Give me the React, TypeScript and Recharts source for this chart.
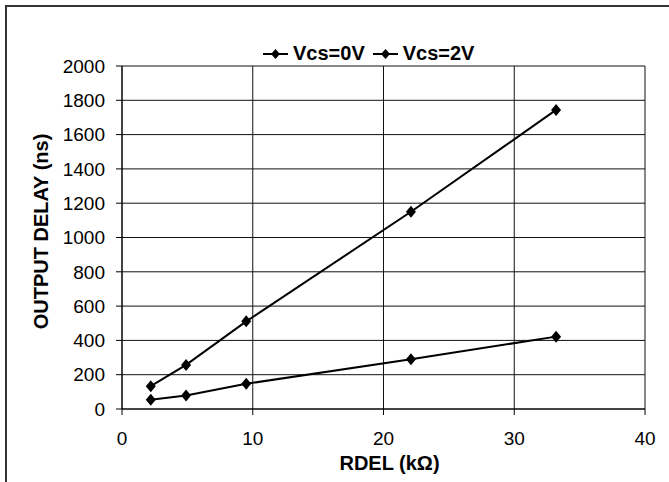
import React from "react";
import {
  LineChart, Line, XAxis, YAxis, CartesianGrid, Legend, Label,
} from "recharts";

// RDEL (kOhm) vs output delay (ns)
const rdel = [2.2, 4.9, 9.5, 22.1, 33.2];
const delayVcs0 = [133, 257, 511, 1150, 1744];
const delayVcs2 = [54, 79, 147, 290, 422];

const xTicks = [0, 10, 20, 30, 40];
const yTicks = [0, 200, 400, 600, 800, 1000, 1200, 1400, 1600, 1800, 2000];

const SERIES = [
  { name: "Vcs=0V", values: delayVcs0 },
  { name: "Vcs=2V", values: delayVcs2 },
];

const FONT = "'Liberation Sans', Arial, sans-serif";

function Diamond(props: { cx?: number; cy?: number }) {
  const { cx, cy } = props;
  if (cx == null || cy == null) return null;
  return (
    <polygon
      points={`${cx},${cy - 6} ${cx + 5},${cy} ${cx},${cy + 6} ${cx - 5},${cy}`}
      fill="#000"
    />
  );
}

function LegendBox() {
  return (
    <div style={{ display: "flex", alignItems: "center", fontFamily: FONT, fontWeight: 700, fontSize: 20, color: "#000" }}>
      {SERIES.map((s, i) => (
        <div key={s.name} style={{ display: "flex", alignItems: "center", marginLeft: i ? 8 : 0 }}>
          <svg width={25} height={14} style={{ marginRight: 5 }}>
            <line x1={0} y1={7} x2={25} y2={7} stroke="#000" strokeWidth={2} />
            <polygon points="12.5,2 17,7 12.5,12 8,7" fill="#000" />
          </svg>
          <span>{s.name}</span>
        </div>
      ))}
    </div>
  );
}

export default function App() {
  return (
    <div style={{ position: "fixed", left: 0, top: 0, width: 669, height: 482, overflow: "hidden", background: "#fff" }}>
      {/* outer frame, cut off at right and bottom */}
      <div style={{ position: "absolute", left: 5, top: 5, width: 700, height: 520, border: "2px solid #333" }} />
      <LineChart
        width={669}
        height={482}
        margin={{ top: 66, right: 24, left: 0, bottom: 0 }}
        style={{ position: "absolute", left: 0, top: 0, fontFamily: FONT }}
      >
        <CartesianGrid stroke="#111" strokeWidth={1} horizontalValues={yTicks} verticalValues={xTicks} />
        <XAxis
          type="number"
          dataKey="x"
          domain={[0, 40]}
          ticks={xTicks}
          allowDataOverflow
          height={73}
          stroke="#000"
          tickSize={6}
          tickMargin={17}
          tick={{ fill: "#000", fontSize: 19, fontFamily: FONT }}
        >
          <Label
            content={({ viewBox }: any) => (
              <text
                x={viewBox.x + viewBox.width / 2 + 6}
                y={470}
                textAnchor="middle"
                fontFamily={FONT}
                fontWeight={700}
                fontSize={20}
                fill="#000"
              >
                RDEL (kΩ)
              </text>
            )}
          />
        </XAxis>
        <YAxis
          type="number"
          domain={[0, 2000]}
          ticks={yTicks}
          interval={0}
          width={122}
          stroke="#000"
          tickSize={6}
          tickMargin={11}
          tick={{ fill: "#000", fontSize: 19, fontFamily: FONT }}
        >
          <Label
            content={({ viewBox }: any) => (
              <text
                x={41}
                y={viewBox.y + viewBox.height / 2 - 6}
                transform={`rotate(-90 41 ${viewBox.y + viewBox.height / 2 - 6})`}
                textAnchor="middle"
                dominantBaseline="central"
                fontFamily={FONT}
                fontWeight={700}
                fontSize={20}
                fill="#000"
              >
                OUTPUT DELAY (ns)
              </text>
            )}
          />
        </YAxis>
        <Legend
          verticalAlign="middle"
          align="center"
          layout="horizontal"
          content={() => <LegendBox />}
          wrapperStyle={{ top: 42, left: 263, width: "auto" }}
        />
        {SERIES.map((s) => (
          <Line
            key={s.name}
            name={s.name}
            data={rdel.map((x, i) => ({ x, y: s.values[i] }))}
            dataKey="y"
            stroke="#000"
            strokeWidth={2}
            dot={<Diamond />}
            activeDot={false}
            isAnimationActive={false}
          />
        ))}
      </LineChart>
    </div>
  );
}
